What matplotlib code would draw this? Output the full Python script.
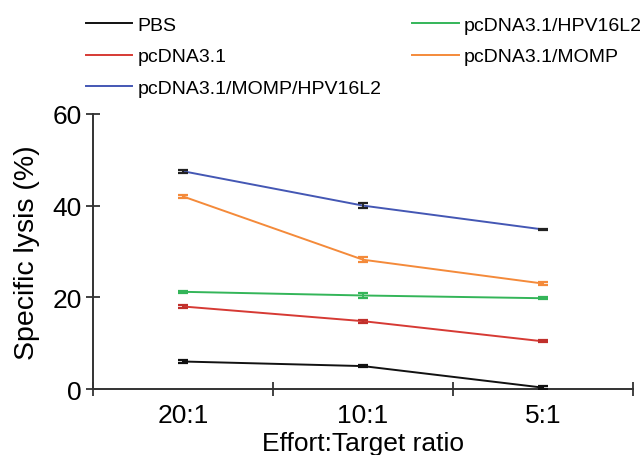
import matplotlib
matplotlib.use('Agg')
import matplotlib.pyplot as plt
import numpy as np

plt.rcParams['font.family'] = ['Liberation Sans', 'DejaVu Sans']

# data
ratios = ['20:1', '10:1', '5:1']
groups = ['PBS', 'pcDNA3.1', 'pcDNA3.1/MOMP/HPV16L2', 'pcDNA3.1/HPV16L2', 'pcDNA3.1/MOMP']
pbs = [6.0, 5.0, 0.3]
pcdna = [18.0, 14.8, 10.4]
momp_l2 = [47.5, 40.0, 34.8]
l2 = [21.2, 20.4, 19.8]
momp = [42.0, 28.2, 23.0]
pbs_err = [0.3, 0.3, 0.3]
pcdna_err = [0.3, 0.3, 0.2]
momp_l2_err = [0.3, 0.5, 0.2]
l2_err = [0.2, 0.6, 0.2]
momp_err = [0.3, 0.5, 0.3]

series = [pbs, pcdna, momp_l2, l2, momp]
errors = [pbs_err, pcdna_err, momp_l2_err, l2_err, momp_err]
colors = ['#111111', '#d63a34', '#4457b4', '#34b559', '#f48a3a']
capcolors = ['#111111', '#c0302c', '#222222', '#34b559', '#f48a3a']

fig = plt.figure(figsize=(6.44, 4.56), dpi=100)
ax = fig.add_axes([0.1444, 0.1447, 0.983 - 0.1444, 0.748 - 0.1447])

x = np.arange(len(ratios))
handles = []
for vals, err, c, cc, name in zip(series, errors, colors, capcolors, groups):
    ax.errorbar(x, vals, yerr=err, fmt='none', ecolor=cc, elinewidth=1.3,
                capsize=3.5, capthick=1.6, zorder=3)
    h, = ax.plot(x, vals, color=c, lw=1.4, label=name, zorder=2)
    handles.append(h)

ax.set_xlim(-0.5, 2.5)
ax.set_ylim(0, 60)
ax.set_xticks([-0.5, 0.5, 1.5, 2.5])
ax.set_xticklabels([])
ax.set_xticks(x, minor=True)
ax.set_xticklabels(ratios, minor=True, fontsize=19)
ax.tick_params(axis='x', which='minor', length=0, pad=10)
ax.tick_params(axis='x', which='major', direction='inout', length=10, width=1.3, color='#333333')
ax.set_yticks([0, 20, 40, 60])
ax.tick_params(axis='y', direction='inout', length=10, width=1.3, color='#333333', labelsize=19, pad=3)

for s in ['top', 'right']:
    ax.spines[s].set_visible(False)
for s in ['left', 'bottom']:
    ax.spines[s].set_linewidth(1.4)
    ax.spines[s].set_color('#333333')

ax.set_ylabel('Specific lysis (%)', fontsize=20.5, labelpad=9)
ax.set_xlabel('Effort:Target ratio', fontsize=19, labelpad=3)

fig.legend(handles=handles, labels=groups, ncol=2, loc='upper left',
           bbox_to_anchor=(76 / 644, 0.983), frameon=False, fontsize=14,
           borderpad=0, handlelength=2.4, handletextpad=0.25,
           labelspacing=0.7, columnspacing=1.6)

fig.savefig('out.png', dpi=100)
